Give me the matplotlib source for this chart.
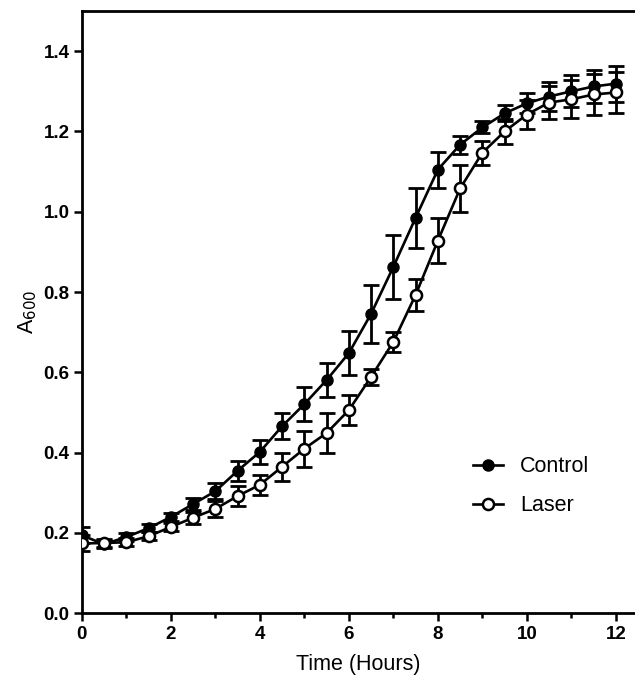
import numpy as np
import matplotlib.pyplot as plt
from matplotlib.ticker import MultipleLocator

plt.rcParams['font.family'] = ['Liberation Sans', 'DejaVu Sans']

# time points (hours)
hours = np.arange(0, 12.5, 0.5)

control = [0.194, 0.172, 0.190, 0.212, 0.240, 0.272, 0.304, 0.355, 0.402, 0.466,
           0.521, 0.581, 0.648, 0.746, 0.863, 0.985, 1.105, 1.167, 1.210, 1.245,
           1.270, 1.287, 1.300, 1.312, 1.319]
control_err = [0.02, 0.01, 0.01, 0.01, 0.01, 0.015, 0.02, 0.025, 0.03, 0.032,
               0.042, 0.043, 0.055, 0.072, 0.08, 0.075, 0.045, 0.022, 0.015, 0.02,
               0.025, 0.035, 0.04, 0.042, 0.045]

laser = [0.174, 0.175, 0.177, 0.192, 0.215, 0.238, 0.260, 0.292, 0.320, 0.365,
         0.410, 0.449, 0.506, 0.589, 0.676, 0.793, 0.928, 1.058, 1.147, 1.200,
         1.242, 1.272, 1.280, 1.292, 1.297]
laser_err = [0.02, 0.01, 0.01, 0.01, 0.01, 0.015, 0.02, 0.025, 0.025, 0.035,
             0.045, 0.05, 0.038, 0.02, 0.025, 0.04, 0.056, 0.058, 0.03, 0.032,
             0.037, 0.04, 0.047, 0.05, 0.05]

fig = plt.figure(figsize=(6.35, 6.86), dpi=100)
ax = fig.add_axes([0.129, 0.106, 0.871, 0.878])

ax.errorbar(hours, control, yerr=control_err, fmt='none', ecolor='black',
            elinewidth=2, capsize=5.5, capthick=2, zorder=2)
ax.errorbar(hours, laser, yerr=laser_err, fmt='none', ecolor='black',
            elinewidth=2, capsize=5.5, capthick=2, zorder=2)
ax.plot(hours, control, color='black', lw=1.9, marker='o', ms=8,
        mfc='black', mec='black', label='Control', zorder=3)
ax.plot(hours, laser, color='black', lw=1.9, marker='o', ms=8,
        mfc='white', mec='black', mew=1.8, label='Laser', zorder=3)

ax.set_xlim(0, 12.43)
ax.set_ylim(0, 1.5)
ax.xaxis.set_major_locator(MultipleLocator(2))
ax.xaxis.set_minor_locator(MultipleLocator(1))
ax.yaxis.set_major_locator(MultipleLocator(0.2))
ax.yaxis.set_major_formatter(plt.FormatStrFormatter('%.1f'))
ax.tick_params(which='major', length=6, width=1.8, labelsize=13.5, pad=3)
ax.tick_params(which='minor', length=3.5, width=1.8)
for lbl in ax.get_xticklabels() + ax.get_yticklabels():
    lbl.set_fontweight('bold')

for s in ['left', 'bottom', 'top']:
    ax.spines[s].set_linewidth(2)
ax.spines['right'].set_visible(False)

ax.set_xlabel('Time (Hours)', fontsize=15.5, labelpad=8)
ax.set_ylabel('A$_{600}$', fontsize=15.5, labelpad=3)

ax.legend(loc='center left', bbox_to_anchor=(0.672, 0.211), frameon=False,
          fontsize=15.5, handlelength=1.4, handletextpad=0.8, labelspacing=0.85)

fig.savefig('out.png', dpi=100)
